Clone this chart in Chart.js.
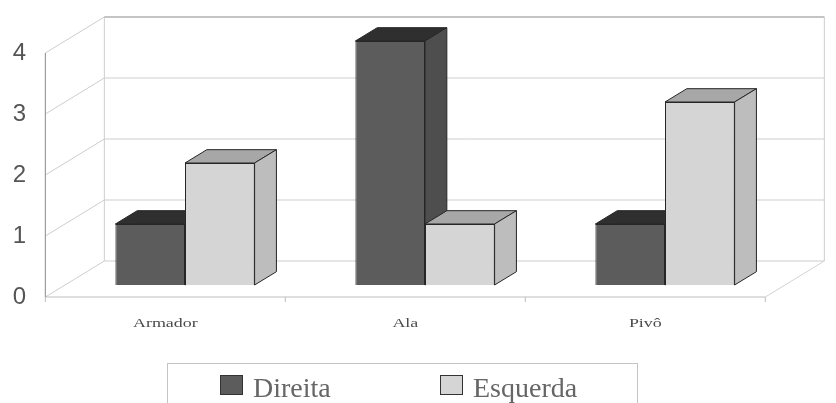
<!DOCTYPE html>
<html>
<head>
<meta charset="utf-8">
<script src="https://cdn.jsdelivr.net/npm/chart.js@4/dist/chart.umd.min.js"></script>
<style>
  html, body { margin: 0; padding: 0; background: #fff; }
  #wrap { width: 836px; height: 403px; }
</style>
</head>
<body>
<div id="wrap"><canvas id="posicoes" width="836" height="403"></canvas></div>
<script>
// posicoes x lado dominante
const categories = ['Armador', 'Ala', 'Pivô'];
const seriesNames = ['Direita', 'Esquerda'];
const direita = [1, 4, 1];
const esquerda = [2, 1, 3];
const yTicks = [0, 1, 2, 3, 4];

// face colours: front, top, side
const shades = [
    { front: '#5c5c5c', top: '#2f2f2f', side: '#4e4e4e' },
    { front: '#d5d5d5', top: '#a7a7a7', side: '#bdbdbd' }
];

// depth of the floor, bars sit a third of the way in
const DEPTH = { dx: 59, dy: -36, barAt: 1 / 3, barDepth: 0.37 };

function toFront(x, y) { return [x - DEPTH.dx * DEPTH.barAt, y - DEPTH.dy * DEPTH.barAt]; }
function toBack(x, y) { return [x + DEPTH.dx * (1 - DEPTH.barAt), y + DEPTH.dy * (1 - DEPTH.barAt)]; }

function line(ctx, a, b) {
    ctx.beginPath();
    ctx.moveTo(a[0], a[1]);
    ctx.lineTo(b[0], b[1]);
    ctx.stroke();
}

function poly(ctx, pts, fill) {
    ctx.beginPath();
    ctx.moveTo(pts[0][0], pts[0][1]);
    for (let i = 1; i < pts.length; i++) ctx.lineTo(pts[i][0], pts[i][1]);
    ctx.closePath();
    ctx.fillStyle = fill;
    ctx.fill();
    ctx.stroke();
}

const depthPlugin = {
    id: 'depth3d',
    beforeDatasetsDraw(chart) {
        const ctx = chart.ctx;
        const area = chart.chartArea;
        const ys = chart.scales.y;
        const p0 = ys.getPixelForValue(0);
        const pTop = ys.getPixelForValue(yTicks[yTicks.length - 1]);
        ctx.save();
        ctx.lineWidth = 1;

        // walls and grid
        ctx.strokeStyle = '#cdcdcd';
        yTicks.forEach(v => {
            const p = ys.getPixelForValue(v);
            line(ctx, toFront(area.left, p), toBack(area.left, p));
            line(ctx, toBack(area.left, p), toBack(area.right, p));
        });
        line(ctx, toBack(area.left, pTop), toBack(area.left, p0));
        line(ctx, toBack(area.right, pTop), toBack(area.right, p0));
        ctx.strokeStyle = '#c4c4c4';
        ctx.lineWidth = 2;
        line(ctx, toBack(area.left, pTop), toBack(area.right, pTop));
        ctx.lineWidth = 1;

        // floor
        ctx.strokeStyle = '#d2d2d2';
        line(ctx, toFront(area.right, p0), toBack(area.right, p0));
        ctx.strokeStyle = '#bdbdbd';
        line(ctx, toFront(area.left, p0), toFront(area.right, p0));
        const step = (area.right - area.left) / categories.length;
        for (let i = 0; i <= categories.length; i++) {
            const f = toFront(area.left + step * i, p0);
            line(ctx, f, [f[0], f[1] + 5]);
        }

        // front axis
        ctx.strokeStyle = '#8a8a8a';
        line(ctx, toFront(area.left, pTop), toFront(area.left, p0));

        // tops and sides of the bars, fronts are drawn by chart.js on top
        const ddx = DEPTH.dx * DEPTH.barDepth;
        const ddy = DEPTH.dy * DEPTH.barDepth;
        ctx.strokeStyle = '#262626';
        chart.data.datasets.forEach((ds, di) => {
            chart.getDatasetMeta(di).data.forEach(bar => {
                const b = bar.getProps(['x', 'y', 'base', 'width'], true);
                const l = b.x - b.width / 2, r = b.x + b.width / 2;
                poly(ctx, [[l, b.y], [r, b.y], [r + ddx, b.y + ddy], [l + ddx, b.y + ddy]], shades[di].top);
                poly(ctx, [[r, b.y], [r + ddx, b.y + ddy], [r + ddx, b.base + ddy], [r, b.base]], shades[di].side);
            });
        });
        ctx.restore();
    },
    afterDraw(chart) {
        const ctx = chart.ctx;
        const area = chart.chartArea;
        const ys = chart.scales.y;
        const xs = chart.scales.x;
        const p0 = ys.getPixelForValue(0);
        ctx.save();

        // value ticks along the front axis
        ctx.fillStyle = '#555';
        ctx.font = '24px "Liberation Sans", Arial, sans-serif';
        ctx.textAlign = 'center';
        ctx.textBaseline = 'middle';
        yTicks.forEach(v => {
            const f = toFront(area.left, ys.getPixelForValue(v));
            ctx.fillText(String(v), f[0] - 26, f[1]);
        });

        // category names, wide small serif
        ctx.fillStyle = '#4a4a4a';
        ctx.font = '13px "Liberation Serif", "Times New Roman", serif';
        categories.forEach((c, i) => {
            const f = toFront(xs.getPixelForValue(i), p0);
            ctx.save();
            ctx.translate(f[0], f[1] + 27);
            ctx.scale(1.38, 1);
            ctx.fillText(c, 0, 0);
            ctx.restore();
        });

        // legend box
        ctx.strokeStyle = '#c4c4c4';
        ctx.lineWidth = 1;
        ctx.strokeRect(167.5, 363.5, 470, 60);
        ctx.font = '28px "Liberation Serif", "Times New Roman", serif';
        ctx.textAlign = 'left';
        ctx.textBaseline = 'alphabetic';
        const legendX = [220, 440];
        seriesNames.forEach((name, i) => {
            ctx.fillStyle = shades[i].front;
            ctx.strokeStyle = '#333';
            ctx.fillRect(legendX[i] + 0.5, 375.5, 22, 19);
            ctx.strokeRect(legendX[i] + 0.5, 375.5, 22, 19);
            ctx.fillStyle = '#666';
            ctx.fillText(name, legendX[i] + 33, 397);
        });
        ctx.restore();
    }
};

new Chart(document.getElementById('posicoes'), {
    type: 'bar',
    data: {
        labels: categories,
        datasets: [
            { label: seriesNames[0], data: direita, backgroundColor: shades[0].front, borderColor: '#262626', borderWidth: 1 },
            { label: seriesNames[1], data: esquerda, backgroundColor: shades[1].front, borderColor: '#262626', borderWidth: 1 }
        ]
    },
    options: {
        responsive: false,
        animation: false,
        layout: { padding: { left: 65, right: 51, top: 41, bottom: 118 } },
        datasets: { bar: { categoryPercentage: 0.58, barPercentage: 1 } },
        scales: {
            x: { display: false },
            y: { display: false, min: 0, max: 4 }
        },
        plugins: {
            legend: { display: false },
            tooltip: { enabled: false }
        }
    },
    plugins: [depthPlugin]
});
</script>
</body>
</html>
